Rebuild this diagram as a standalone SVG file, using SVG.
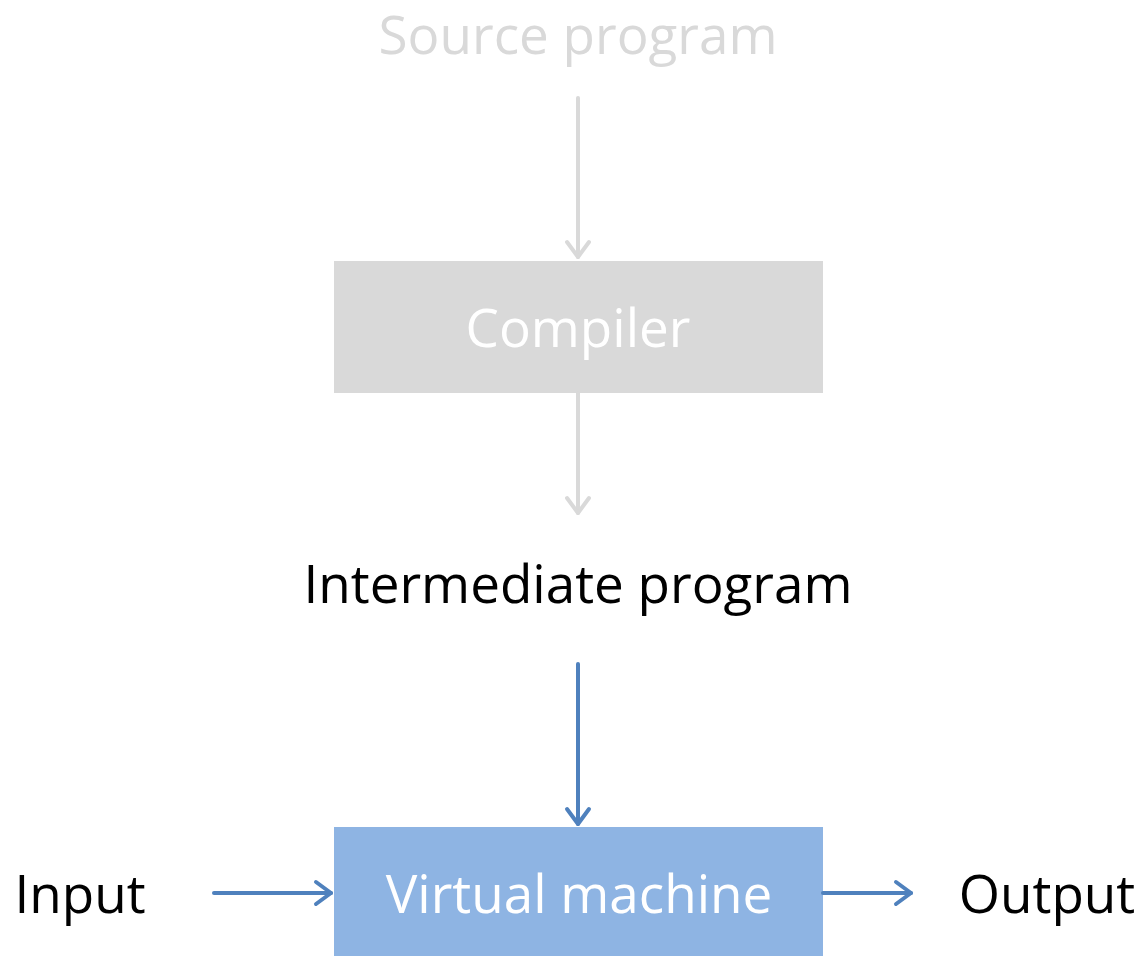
<svg xmlns="http://www.w3.org/2000/svg" width="1145" height="956" viewBox="0 0 1145 956">
  <style>
    .lbl { font-family: "Open Sans", "Noto Sans", "DejaVu Sans", sans-serif; font-size: 53px; text-anchor: middle; }
    .gray-line { stroke: #d9d9d9; stroke-width: 4; fill: none; stroke-linecap: round; }
    .blue-line { stroke: #4f81bd; stroke-width: 4; fill: none; stroke-linecap: round; }
    .gray-head { stroke: #d9d9d9; stroke-width: 4; fill: none; stroke-linecap: round; stroke-linejoin: round; }
    .blue-head { stroke: #4f81bd; stroke-width: 4; fill: none; stroke-linecap: round; stroke-linejoin: round; }
  </style>
  <rect width="1145" height="956" fill="#ffffff"/>

  <g id="source">
    <text class="lbl" x="578" y="54" fill="#d9d9d9">Source program</text>
  </g>

  <g id="compiler">
    <rect x="334" y="261" width="489" height="132" fill="#d9d9d9"/>
    <text class="lbl" x="578" y="347" fill="#ffffff">Compiler</text>
  </g>

  <g id="intermediate">
    <text class="lbl" x="578" y="603" fill="#000000">Intermediate program</text>
  </g>

  <g id="vm">
    <rect x="334" y="827" width="489" height="129" fill="#8eb4e3"/>
    <text class="lbl" x="579" y="913" fill="#ffffff">Virtual machine</text>
  </g>

  <g id="input">
    <text class="lbl" x="80" y="913" fill="#000000">Input</text>
  </g>

  <g id="output">
    <text class="lbl" x="1047" y="913" fill="#000000">Output</text>
  </g>

  <g id="connectors">
    <!-- source -> compiler -->
    <line class="gray-line" x1="578" y1="98" x2="578" y2="257"/>
    <polyline class="gray-head" points="567,242 578,257 589,242"/>
    <!-- compiler -> intermediate -->
    <line class="gray-line" x1="578" y1="393" x2="578" y2="513"/>
    <polyline class="gray-head" points="567,498 578,513 589,498"/>
    <!-- intermediate -> vm -->
    <line class="blue-line" x1="578" y1="664" x2="578" y2="824"/>
    <polyline class="blue-head" points="567,809 578,824 589,809"/>
    <!-- input -> vm -->
    <line class="blue-line" x1="214" y1="893" x2="331" y2="893"/>
    <polyline class="blue-head" points="316,882 331,893 316,904"/>
    <!-- vm -> output -->
    <line class="blue-line" x1="823" y1="893" x2="911" y2="893"/>
    <polyline class="blue-head" points="896,882 911,893 896,904"/>
  </g>
</svg>
